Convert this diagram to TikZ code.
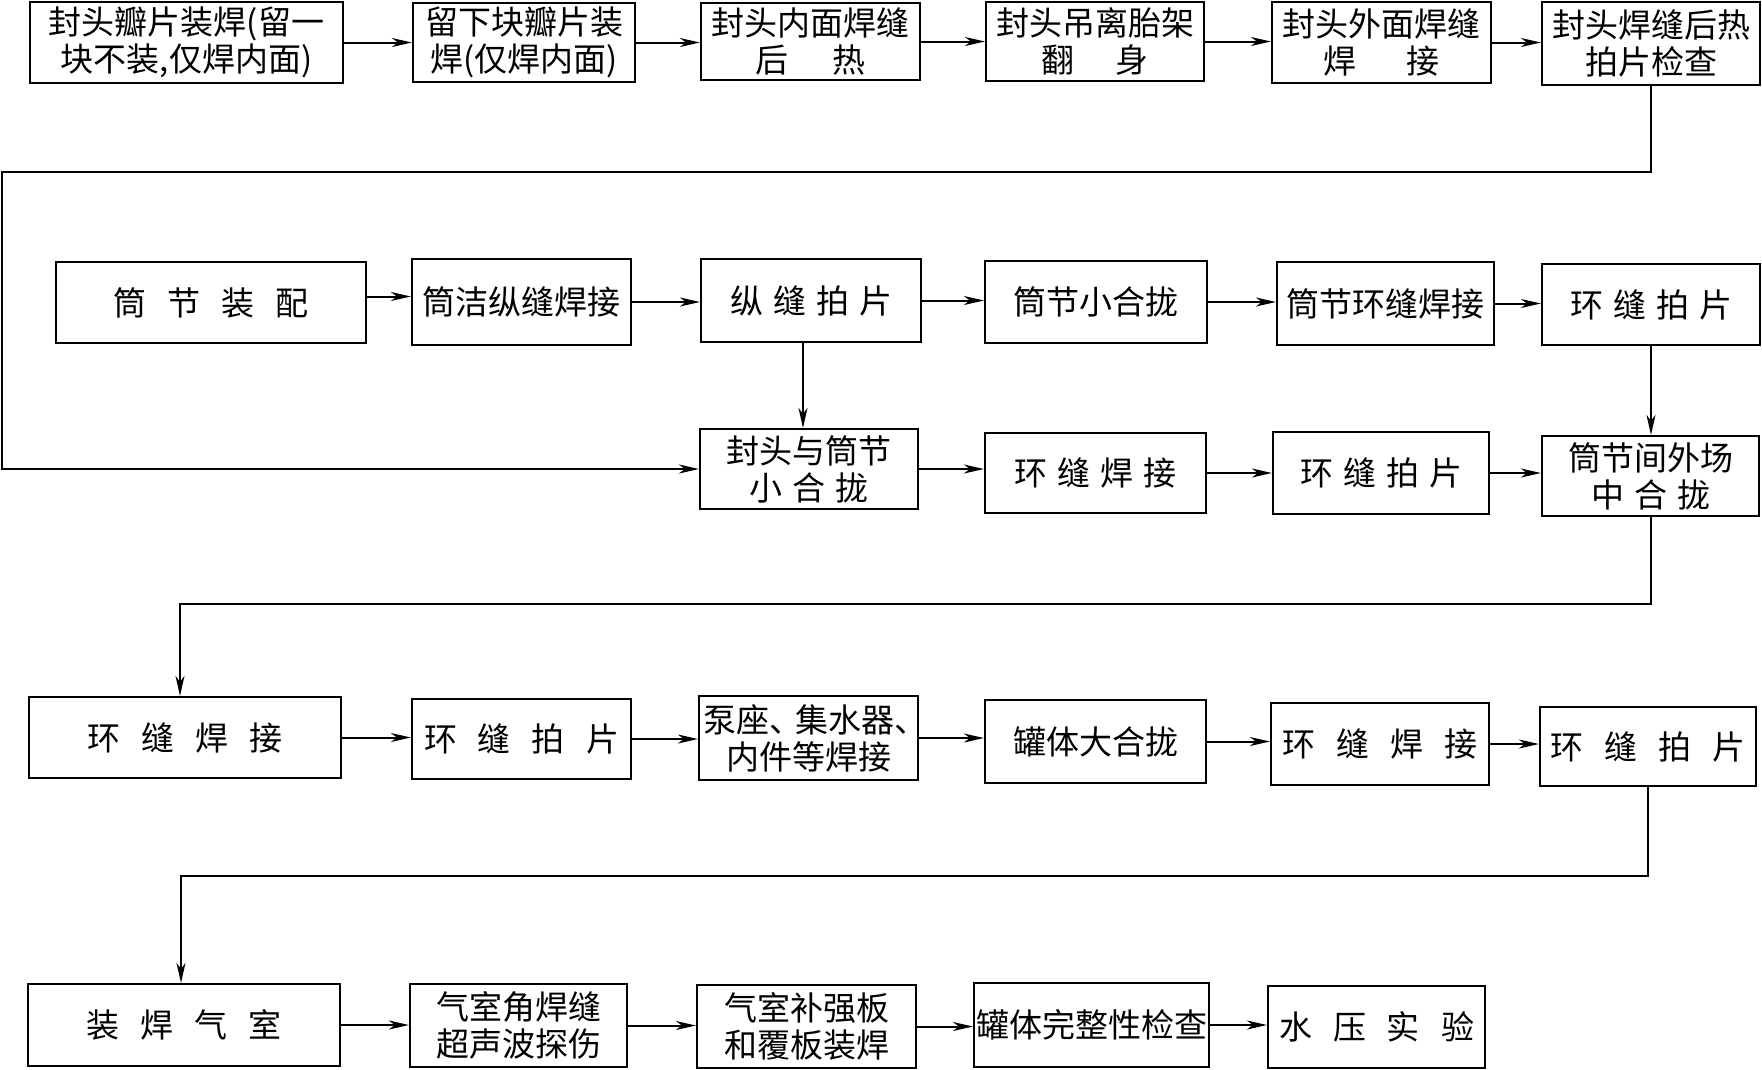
\documentclass[tikz,border=0pt]{standalone}
\usepackage{fontspec}
\setmainfont{Noto Sans CJK SC}
\usetikzlibrary{arrows.meta}
\newcommand\gapS{\hspace{10pt}}
\newcommand\gapL{\hspace{21pt}}
\newcommand\flowbox[6]{\node[pbox, minimum width={#4-#2}, minimum height={#5-#3}] (#1) at ({(#2+#4)/2},{(#3+#5)/2}) {#6};}
\tikzset{
  pbox/.style={draw, line width=2.2pt, inner sep=0pt, align=center,
    font=\fontsize{33pt}{37pt}\selectfont},
  arr/.style={line width=2pt, -{Stealth[length=20pt,width=9pt,inset=6pt]}},
  link/.style={line width=2pt}
}
\begin{document}
\begin{tikzpicture}[x=1pt,y=-1pt]
\useasboundingbox[fill=white] (0,0) rectangle (1762,1069);
% row 1
\flowbox{a1}{30}{2}{343}{83}{封头瓣片装焊(留一\\块不装,仅焊内面)}
\flowbox{a2}{413}{3}{635}{82}{留下块瓣片装\\焊(仅焊内面)}
\flowbox{a3}{701}{3}{920}{80}{封头内面焊缝\\后\hspace{45pt}热}
\flowbox{a4}{986}{2}{1204}{81}{封头吊离胎架\\翻\hspace{41pt}身}
\flowbox{a5}{1272}{2}{1491}{83}{封头外面焊缝\\焊\hspace{50pt}接}
\flowbox{a6}{1542}{2}{1760}{85}{封头焊缝后热\\拍片检查}
% row 2
\flowbox{b1}{56}{262}{366}{343}{筒\gapL 节\gapL 装\gapL 配}
\flowbox{b2}{412}{259}{631}{345}{筒洁纵缝焊接}
\flowbox{b3}{701}{259}{921}{342}{纵\gapS 缝\gapS 拍\gapS 片}
\flowbox{b4}{985}{261}{1207}{343}{筒节小合拢}
\flowbox{b5}{1277}{262}{1494}{345}{筒节环缝焊接}
\flowbox{b6}{1542}{264}{1760}{345}{环\gapS 缝\gapS 拍\gapS 片}
% row 3
\flowbox{c1}{700}{429}{918}{509}{封头与筒节\\小\gapS 合\gapS 拢}
\flowbox{c2}{985}{433}{1206}{513}{环\gapS 缝\gapS 焊\gapS 接}
\flowbox{c3}{1273}{432}{1489}{514}{环\gapS 缝\gapS 拍\gapS 片}
\flowbox{c4}{1542}{436}{1759}{516}{筒节间外场\\中\gapS 合\gapS 拢}
% row 4
\flowbox{d1}{29}{697}{341}{778}{环\gapL 缝\gapL 焊\gapL 接}
\flowbox{d2}{412}{699}{631}{779}{环\gapL 缝\gapL 拍\gapL 片}
\flowbox{d3}{699}{696}{918}{780}{\makebox[211pt][l]{泵座、\hspace{-7pt}集水器、}\\内件等焊接}
\flowbox{d4}{985}{700}{1206}{783}{罐体大合拢}
\flowbox{d5}{1271}{703}{1489}{785}{环\gapL 缝\gapL 焊\gapL 接}
\flowbox{d6}{1540}{707}{1756}{786}{环\gapL 缝\gapL 拍\gapL 片}
% row 5
\flowbox{e1}{28}{984}{340}{1066}{装\gapL 焊\gapL 气\gapL 室}
\flowbox{e2}{410}{984}{627}{1067}{气室角焊缝\\超声波探伤}
\flowbox{e3}{697}{985}{916}{1068}{气室补强板\\和覆板装焊}
\flowbox{e4}{974}{983}{1209}{1067}{罐体完整性检查}
\flowbox{e5}{1268}{986}{1485}{1068}{水\gapL 压\gapL 实\gapL 验}
% turning points
\coordinate (k1) at (1.5,172);
\coordinate (k2) at (180,604);
\coordinate (k3) at (181,876);
% row 1 arrows
\draw[arr] (a1.east) -- (a1.east -| a2.west);
\draw[arr] (a2.east) -- (a2.east -| a3.west);
\draw[arr] (a3.east) -- (a3.east -| a4.west);
\draw[arr] (a4.east) -- (a4.east -| a5.west);
\draw[arr] (a5.east) -- (a5.east -| a6.west);
\draw[arr] (a6.south) -- (a6.south |- k1) -- (k1) |- (c1.west);
% row 2 arrows
\draw[arr] ([yshift=6pt]b1.east) -- ([yshift=6pt]b1.east -| b2.west);
\draw[arr] (b2.east) -- (b2.east -| b3.west);
\draw[arr] (b3.east) -- (b3.east -| b4.west);
\draw[arr] (b4.east) -- (b4.east -| b5.west);
\draw[arr] (b5.east) -- (b5.east -| b6.west);
\draw[arr] ([xshift=-8pt]b3.south) -- ([xshift=-8pt]b3.south |- c1.north);
\draw[arr] (b6.south) -- (b6.south |- c4.north);
% row 3 arrows
\draw[arr] (c1.east) -- (c1.east -| c2.west);
\draw[arr] (c2.east) -- (c2.east -| c3.west);
\draw[arr] (c3.east) -- (c3.east -| c4.west);
\draw[arr] (c4.south) |- (k2) -- (k2 |- d1.north);
% row 4 arrows
\draw[arr] (d1.east) -- (d1.east -| d2.west);
\draw[arr] (d2.east) -- (d2.east -| d3.west);
\draw[arr] (d3.east) -- (d3.east -| d4.west);
\draw[arr] (d4.east) -- (d4.east -| d5.west);
\draw[arr] (d5.east) -- (d5.east -| d6.west);
\draw[arr] (d6.south) |- (k3) -- (k3 |- e1.north);
% row 5 arrows
\draw[arr] (e1.east) -- (e1.east -| e2.west);
\draw[arr] (e2.east) -- (e2.east -| e3.west);
\draw[arr] (e3.east) -- (e3.east -| e4.west);
\draw[arr] (e4.east) -- (e4.east -| e5.west);
\end{tikzpicture}
\end{document}
